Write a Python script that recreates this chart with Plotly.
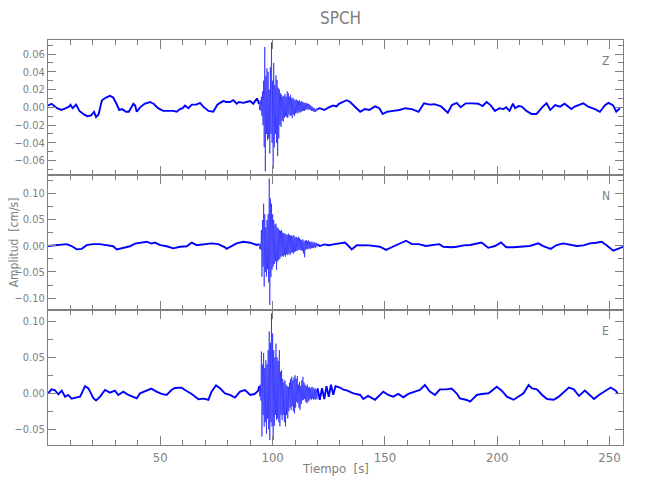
import numpy as np
import plotly.graph_objects as go

# ---------------- data ----------------
station = "SPCH"
channels = ["Z", "N", "E"]

# sample times of the dense strong-motion window (s)
burst_t = [round(94 + 0.25 * i, 2) for i in range(105)]

# ---- Z component ----
z_pre_t = [0, 1.6, 4, 6, 8, 9.5, 10, 11, 12.5, 14, 16, 17.5, 19.2, 20.5, 21.4, 22.5, 24, 25.8, 27.6, 29,
           30.5, 31.7, 33, 34.7, 36, 36.8, 38, 38.8, 39.5, 41, 43, 45.4, 47, 49, 51.3, 53.5, 55.8, 57.3,
           58.8, 60, 61, 62.5, 64, 66, 67.7, 69, 71.4, 73.6, 75.4, 76.6, 78, 79.5, 81, 82.5, 84, 85, 87,
           88.4, 90, 91.4, 93]
z_pre_v = [0.002, 0.004, -0.001, -0.003, -0.001, 0.001, 0.003, -0.001, 0.003, -0.004, -0.008, -0.010,
           -0.009, -0.005, -0.011, -0.008, 0.008, 0.011, 0.013, 0.011, 0.004, -0.003, -0.002, -0.005,
           -0.005, -0.001, 0.004, 0.002, -0.005, 0.000, 0.004, 0.006, 0.004, -0.001, -0.004, -0.004,
           -0.004, -0.005, -0.002, -0.001, 0.002, -0.001, 0.003, 0.003, 0.005, 0.001, -0.004, -0.005,
           0.003, 0.005, 0.007, 0.006, 0.006, 0.008, 0.004, 0.006, 0.005, 0.006, 0.007, 0.004, 0.010]
z_burst = [0.004, -0.003, 0.008, -0.004, 0.012, -0.010, 0.018, -0.020, 0.030, -0.045,
           0.068, -0.072, 0.035, -0.030, 0.044, -0.037, 0.040, -0.035, 0.020, -0.052,
           0.045, -0.030, 0.073, -0.040, 0.030, -0.069, 0.050, -0.045, 0.025, -0.030,
           0.036, -0.040, 0.031, -0.055, 0.022, -0.035, 0.020, -0.020, 0.016, -0.022,
           0.014, -0.015, 0.012, -0.016, 0.013, -0.012, 0.015, -0.010, 0.012, -0.011,
           0.018, -0.012, 0.016, -0.008, 0.012, -0.010, 0.014, -0.009, 0.010, -0.012,
           0.011, -0.008, 0.009, -0.010, 0.008, -0.007, 0.009, -0.006, 0.008, -0.007,
           0.007, -0.005, 0.008, -0.006, 0.006, -0.005, 0.007, -0.004, 0.006, -0.004,
           0.005, -0.004, 0.005, -0.003, 0.005, -0.002, 0.004, -0.003, 0.004, -0.002,
           0.003, -0.003, 0.002, -0.004, 0.001, -0.004, 0.000, -0.005, -0.001, -0.005,
           -0.002, -0.005, -0.001, -0.004, -0.002]
z_post_t = [121, 123, 125, 127, 128.5, 129.5, 131, 133, 134.5, 136, 137, 139, 141, 143, 145.6, 147.5,
            149, 151, 153.7, 156.5, 159, 162, 165, 167.4, 170, 172, 175, 178, 179.8, 182, 183.7, 186,
            189, 191.6, 193.5, 195.3, 197, 199, 201, 202.8, 204, 205.5, 207, 208, 209.5, 210.9, 213,
            215.3, 217.5, 219, 220.3, 222, 223.6, 225.8, 228, 230, 231.5, 233, 234.5, 238.3, 240.5,
            243.5, 245.7, 248, 249.5, 251.5, 253, 254.6]
z_post_v = [-0.001, -0.003, 0.000, 0.002, 0.001, 0.004, 0.006, 0.008, 0.006, 0.002, 0.000, -0.005,
            -0.002, -0.003, 0.001, -0.001, -0.0075, -0.005, -0.004, -0.003, -0.001, -0.002, -0.005,
            0.0045, 0.003, 0.0035, 0.001, -0.006, 0.0025, 0.005, 0.000, 0.0045, 0.0045, 0.004, 0.0015,
            0.006, 0.0025, -0.004, -0.001, -0.002, 0.000, -0.004, 0.004, -0.001, 0.0015, 0.0008,
            -0.004, -0.0075, -0.0075, -0.003, 0.0008, 0.0045, -0.003, 0.0025, 0.0008, 0.004, 0.0008,
            -0.002, 0.0008, 0.0045, 0.0008, -0.002, -0.005, 0.0025, 0.005, 0.0025, -0.005, -0.001]

# ---- N component ----
n_pre_t = [0, 4, 8.3, 10.5, 12.8, 15, 17.2, 20, 23, 26, 29, 30.6, 33.5, 36.5, 38.7, 41, 44, 46, 47.6,
           50, 52.8, 55.8, 58.8, 61.8, 64, 66.2, 69, 72.8, 75.8, 78.8, 79.5, 81.8, 84, 87, 90, 93]
n_pre_v = [-0.0006, 0.001, 0.003, -0.0006, -0.007, -0.006, 0.001, 0.003, 0.003, 0.001, -0.001, -0.007,
           -0.004, -0.001, 0.004, 0.006, 0.0076, 0.004, 0.006, 0.001, -0.001, -0.005, -0.002, -0.001,
           0.006, 0.001, 0.0025, 0.0045, 0.003, -0.003, -0.006, -0.001, 0.0045, 0.0076, 0.0057, 0.0013]
n_burst = [0.003, -0.006, 0.004, -0.008, 0.030, -0.059, 0.049, -0.040, 0.080, -0.078,
           0.060, -0.050, 0.035, -0.059, 0.049, -0.045, 0.060, -0.070, 0.128, -0.113,
           0.090, -0.060, 0.080, -0.046, 0.060, -0.040, 0.049, -0.035, 0.040, -0.030,
           0.042, -0.046, 0.035, -0.030, 0.033, -0.027, 0.030, -0.025, 0.028, -0.021,
           0.030, -0.020, 0.025, -0.021, 0.024, -0.018, 0.023, -0.021, 0.022, -0.016,
           0.020, -0.018, 0.023, -0.015, 0.021, -0.018, 0.019, -0.014, 0.020, -0.013,
           0.018, -0.015, 0.020, -0.012, 0.016, -0.011, 0.017, -0.010, 0.015, -0.009,
           0.017, -0.008, 0.014, -0.008, 0.012, -0.009, 0.011, -0.010, 0.012, -0.015,
           0.008, -0.022, 0.010, -0.008, 0.011, -0.006, 0.009, -0.007, 0.010, -0.005,
           0.008, -0.006, 0.007, -0.005, 0.008, -0.004, 0.006, -0.005, 0.007, -0.003,
           0.005, -0.004, 0.006, -0.002, 0.003]
n_post_t = [121, 123, 125, 127, 130, 132.2, 133.5, 135.2, 137.5, 140, 143, 147.8, 150.5, 153.5, 156.5,
            159.4, 162, 165, 168.3, 171, 174.2, 176, 179.7, 182, 185, 187.9, 190.5, 193, 196, 199,
            201.7, 204, 207.2, 210, 214.5, 218.3, 220.5, 223.8, 226.5, 229.4, 232.4, 235.4, 238.4,
            241.3, 244, 246.5, 248.5, 251.7, 254, 256]
n_post_v = [-0.0006, 0.0025, 0.001, 0.0025, 0.004, 0.006, 0.001, -0.007, 0.001, 0.001, 0.0006, -0.002,
            -0.008, -0.002, 0.004, 0.0095, 0.003, 0.003, -0.0006, 0.0006, 0.003, -0.002, -0.003,
            -0.002, 0.0006, 0.0013, 0.003, 0.006, -0.004, -0.0006, 0.0063, -0.003, -0.003, -0.002,
            -0.0006, 0.0044, -0.0006, -0.006, 0.0013, 0.0044, 0.0013, -0.0006, 0.0006, 0.0044,
            0.0057, 0.0076, 0.0013, -0.0095, -0.0057, -0.002]

# ---- E component ----
e_pre_t = [0, 1.6, 3, 4.6, 6.1, 7.6, 9, 10.5, 12.8, 14.3, 16.5, 18, 20.2, 21.4, 23.2, 25.4, 27.6, 29.8,
           31.3, 33.5, 35.8, 38, 39.5, 41, 44, 46, 48.3, 50.6, 52.8, 55, 56.5, 59.5, 61, 64, 67, 69.2,
           71.4, 72.8, 74.8, 76.6, 78.8, 81, 83.2, 85.5, 87.7, 90, 92, 93.6]
e_pre_v = [0.000, 0.0055, 0.0046, -0.0014, 0.0037, -0.0046, -0.0023, -0.0074, -0.0056, -0.0046, 0.010,
           0.0069, -0.0069, -0.010, -0.0046, 0.0046, 0.0009, 0.0037, -0.0023, 0.0023, -0.0023, -0.0046,
           -0.007, 0.000, 0.0037, 0.0065, 0.0023, -0.0009, -0.0023, 0.0046, 0.0074, 0.0079, 0.0046,
           -0.0009, -0.0083, -0.0074, -0.009, 0.0023, 0.011, 0.0069, 0.000, -0.0023, -0.006, 0.0023,
           0.0046, -0.0023, -0.001, 0.0037]
e_burst = [0.010, -0.004, 0.012, -0.010, 0.058, -0.060, 0.040, -0.030, 0.056, -0.046,
           0.035, -0.040, 0.046, -0.056, 0.040, -0.035, 0.060, -0.050, 0.086, -0.065,
           0.070, -0.040, 0.111, -0.046, 0.083, -0.065, 0.060, -0.045, 0.050, -0.030,
           0.069, -0.037, 0.050, -0.035, 0.045, -0.040, 0.060, -0.046, 0.030, -0.030,
           0.032, -0.037, 0.020, -0.030, 0.015, -0.040, 0.018, -0.046, 0.012, -0.030,
           0.010, -0.035, 0.009, -0.025, 0.015, -0.020, 0.020, -0.023, 0.023, -0.018,
           0.018, -0.025, 0.022, -0.028, 0.025, -0.020, 0.020, -0.012, 0.024, -0.014,
           0.012, -0.020, 0.016, -0.023, 0.010, -0.015, 0.018, -0.010, 0.023, -0.009,
           0.015, -0.008, 0.012, -0.012, 0.010, -0.014, 0.012, -0.012, 0.008, -0.010,
           0.009, -0.008, 0.007, -0.009, 0.009, -0.007, 0.008, -0.009, 0.006, -0.008,
           0.007, -0.009, 0.005, -0.008, 0.007]
e_post_t = [121, 122, 123, 124, 125, 126, 127, 128, 130, 131.5, 133, 136, 139, 140.4, 142.5, 145.6,
            147.8, 149.3, 151.5, 153.7, 156, 158.2, 160.4, 163.4, 165.6, 167.8, 170, 172.3, 174.5,
            177.5, 179.7, 181.9, 183.4, 186.4, 187.9, 189.4, 190.9, 193.1, 196.1, 197.6, 199.8, 202,
            204.3, 207.3, 209.5, 211.7, 214, 215.5, 217.7, 220, 222.2, 225.2, 227.4, 228.9, 231.9,
            234.1, 236.4, 239, 240.9, 243.1, 245.3, 247.6, 250.5, 252.8, 253.8]
e_post_v = [-0.009, 0.007, -0.008, 0.010, -0.005, 0.012, -0.002, 0.010, 0.008, 0.005, 0.004, 0.000,
            -0.0023, -0.008, -0.0037, -0.009, -0.0023, 0.0023, -0.0023, -0.0046, -0.0009, -0.0055,
            -0.0009, 0.0023, 0.0046, 0.0115, 0.0023, -0.0023, 0.0055, 0.0055, 0.0065, 0.000, -0.007,
            -0.0093, -0.0115, -0.007, -0.0023, -0.0009, 0.000, 0.0037, 0.009, 0.0037, -0.0046, -0.009,
            -0.0046, 0.000, 0.0115, 0.0069, 0.0055, -0.0023, -0.008, -0.009, -0.0046, 0.000, 0.008,
            0.0055, -0.0037, 0.0037, -0.0023, -0.008, -0.0023, 0.0023, 0.008, 0.0037, -0.0009]

x_ticks = [50, 100, 150, 200, 250]
y_ranges = {"Z": [-0.0762, 0.0758], "N": [-0.1225, 0.1347], "E": [-0.0718, 0.1157]}
y_dtick = {"Z": 0.02, "N": 0.05, "E": 0.05}
y_minor = {"Z": 0.01, "N": 0.025, "E": 0.025}
x_range = [0, 256]

series = {
    "Z": (z_pre_t, z_pre_v, z_burst, z_post_t, z_post_v),
    "N": (n_pre_t, n_pre_v, n_burst, n_post_t, n_post_v),
    "E": (e_pre_t, e_pre_v, e_burst, e_post_t, e_post_v),
}

# ---------------- figure ----------------
GREY = "#808080"
FONT = "Liberation Sans Narrow, DejaVu Sans Condensed, Roboto, sans-serif"
BLUE = "#0000ff"
fig = go.Figure()

domains = {"Z": [2 / 3, 1.0], "N": [1 / 3, 2 / 3], "E": [0.0, 1 / 3]}
layout = {}
for i, ch in enumerate(channels, start=1):
    sfx = "" if i == 1 else str(i)
    pre_t, pre_v, bv, post_t, post_v = series[ch]
    pieces = [
        (pre_t + burst_t[:1], pre_v + bv[:1], 1.9, BLUE),                 # before the event
        (burst_t, bv, 0.7, "rgba(0,0,255,0.8)"),                          # strong motion
        (burst_t[-1:] + post_t, bv[-1:] + post_v, 1.9, BLUE),             # after
    ]
    for px, pv, w, c in pieces:
        fig.add_trace(go.Scatter(x=px, y=pv, mode="lines", xaxis="x" + sfx, yaxis="y" + sfx,
                                 line=dict(color=c, width=w), showlegend=False,
                                 hoverinfo="skip"))
    layout["xaxis" + sfx] = dict(
        domain=[0, 1], anchor="y" + sfx, range=x_range, showticklabels=(ch == "E"),
        tickmode="array", tickvals=x_ticks, ticks="inside", ticklen=9, tickcolor=GREY,
        minor=dict(tickmode="linear", tick0=0, dtick=10, ticks="inside", ticklen=5,
                   tickcolor=GREY),
        showline=True, linecolor=GREY, linewidth=1, mirror="allticks",
        showgrid=False, zeroline=False, automargin=False,
        tickfont=dict(family=FONT, size=13, color=GREY))
    layout["yaxis" + sfx] = dict(
        domain=domains[ch], anchor="x" + sfx, range=y_ranges[ch],
        tickmode="linear", tick0=0, dtick=y_dtick[ch], tickformat=".2f",
        ticks="inside", ticklen=8, tickcolor=GREY,
        minor=dict(dtick=y_minor[ch], ticks="inside", ticklen=5, tickcolor=GREY),
        showline=True, linecolor=GREY, linewidth=1, mirror="allticks",
        showgrid=False, zeroline=False, automargin=False,
        tickfont=dict(family=FONT, size=11, color=GREY))

label_y = {"Z": 0.948, "N": 0.615, "E": 0.281}
annotations = [
    dict(text=ch, x=0.970, y=label_y[ch], xref="paper", yref="paper", showarrow=False,
         xanchor="center", yanchor="middle", font=dict(family=FONT, size=12, color=GREY))
    for ch in channels
]
annotations += [
    dict(text=station, x=0.508, y=1.054, xref="paper", yref="paper", showarrow=False,
         xanchor="center", yanchor="middle", font=dict(family=FONT, size=17, color=GREY)),
    dict(text="Tiempo  [s]", x=0.500, y=-0.057, xref="paper", yref="paper", showarrow=False,
         xanchor="center", yanchor="middle", font=dict(family=FONT, size=13, color=GREY)),
    dict(text="Amplitud  [cm/s]", x=-0.0595, y=0.5, xref="paper", yref="paper", showarrow=False,
         textangle=-90, xanchor="center", yanchor="middle",
         font=dict(family=FONT, size=12, color=GREY)),
]

# the page adds an 8 px body margin, so the margins are trimmed by that amount
fig.update_layout(
    width=650, height=500, margin=dict(l=40, r=35, t=32, b=63, autoexpand=False),
    paper_bgcolor="white", plot_bgcolor="white",
    annotations=annotations, **layout)

fig.write_html("out.html")
